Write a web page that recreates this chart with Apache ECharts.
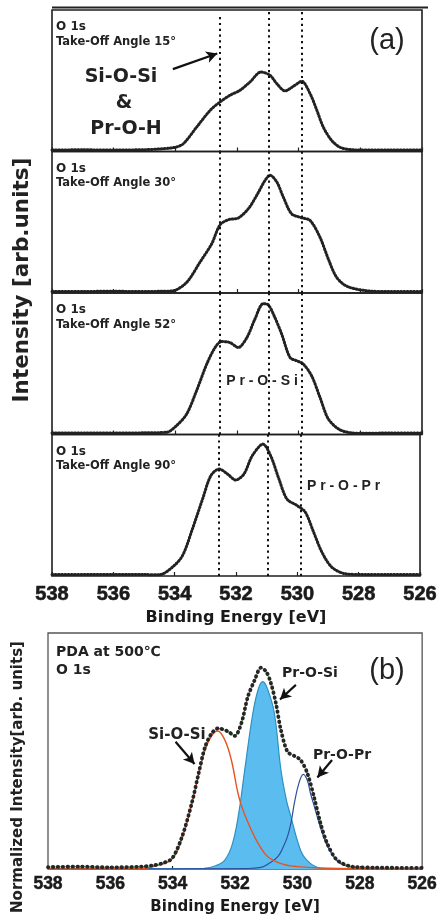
<!DOCTYPE html>
<html>
<head>
<meta charset="utf-8">
<script src="https://cdn.jsdelivr.net/npm/echarts@6.0.0/dist/echarts.min.js"></script>
<style>
  html, body { margin: 0; padding: 0; background: #fff; }
  #c { width: 440px; height: 919px; }
</style>
</head>
<body>
<div id="c"></div>
<script>
// ---- O 1s spectra (binding energy in eV, intensity in % of panel height) ----
// Take-off angle 15°
const e15 = [538,537,536,535,534.5,534.0,533.74,533.31,532.87,532.55,532.23,531.9,531.58,531.22,530.93,530.71,530.44,530.17,529.9,529.63,529.41,529.2,528.93,528.66,528.24,527.5,527,526];
const i15 = [1.0,1.2,1.0,1.3,1.8,3.0,5.5,17.2,29.1,35.0,39.7,43.3,49.1,56.2,53.9,48.0,42.8,46.1,49.6,40.9,29.1,17.2,7.8,3.0,1.2,1.0,1.1,1.0];
// Take-off angle 30°
const e30 = [538,537,536,535,534.5,534.07,533.63,533.2,532.82,532.55,532.28,531.96,531.63,531.36,531.09,530.93,530.71,530.5,530.23,529.9,529.63,529.31,529.04,528.77,528.44,527.8,527,526];
const i30 = [1.0,1.1,1.2,1.0,1.2,1.6,7.6,21.8,34.8,48.2,51.8,53.0,59.6,69.0,79.6,83.2,78.5,67.9,56.0,53.2,51.3,39.5,24.1,11.1,4.8,1.6,1.0,1.0];
// Take-off angle 52°
const e52 = [538,537,536,535,534.28,533.96,533.63,533.31,532.98,532.71,532.5,532.23,531.96,531.68,531.42,531.15,530.98,530.77,530.55,530.28,530.06,529.85,529.58,529.31,529.04,528.66,528.12,527,526];
const i52 = [1.0,1.1,1.0,1.2,1.6,6.3,14.6,31.0,49.8,61.5,65.7,65.0,61.5,68.5,81.5,92.5,91.5,82.6,70.9,54.4,52.1,49.8,41.5,26.3,11.1,3.3,0.9,1.0,1.0];
// Take-off angle 90°
const e90 = [538,537,536,535,534.5,534.07,533.74,533.42,533.09,532.82,532.55,532.28,532.01,531.74,531.47,531.12,530.87,530.6,530.34,530.01,529.74,529.47,529.2,528.88,528.44,527.8,527,526];
const i90 = [1.0,1.0,1.1,1.0,0.9,6.3,14.6,33.3,54.4,70.9,75.6,72.1,67.8,72.1,85.0,93.2,85.0,68.5,54.4,49.8,45.1,31.0,16.9,6.3,1.6,1.0,1.0,1.0];

const angles = ['15', '30', '52', '90'];
// reference energies of the three O 1s components
const peakEnergies = [532.55, 530.96, 529.9];

// ---- PDA at 500 ℃, normalized O 1s with peak fit ----
const eMeas = [538,537,536,535,534.6,534.34,534.02,533.7,533.39,533.17,532.96,532.75,532.54,532.22,532.01,531.8,531.59,531.37,531.17,531.0,530.85,530.69,530.53,530.32,530.1,529.9,529.68,529.47,529.26,529.05,528.73,528.2,527.5,526.5,526];
const iMeas = [0.8,1.0,0.7,1.0,1.6,2.4,4.5,13.7,27.8,40.5,51.8,57.5,59.6,58.2,56.4,61.7,73.0,80.1,85.3,83.6,78.7,70.2,58.9,49.7,47.9,46.2,40.5,30.6,19.4,11.0,3.8,0.9,0.6,0.5,0.5];

// Si-O-Si component
const eSiOSi = [538,535,534.5,534.02,533.7,533.39,533.17,532.96,532.75,532.56,532.33,532.12,531.85,531.48,531.2,530.95,530.5,530,529,526];
const iSiOSi = [0,0.3,1.5,4.2,13,27.5,40,50.5,56.5,58.5,54.7,46.2,29.2,16.5,9.5,5.2,2.2,1.0,0.3,0];
// Pr-O-Si component
const ePrOSi = [538,533,532.6,532.33,532.1,531.9,531.69,531.43,531.25,531.11,530.95,530.74,530.53,530.35,530.21,530.0,529.79,529.37,529,526];
const iPrOSi = [0,0.3,1.5,3.8,10,22.2,42,66,76.5,79.4,76,66,42,29,22.2,12,5.2,0.7,0.2,0];
// Pr-O-Pr component
const ePrOPr = [538,531.6,531.17,530.9,530.63,530.45,530.32,530.2,530.1,529.95,529.81,529.68,529.58,529.47,529.26,529.05,528.73,528.4,528,526];
const iPrOPr = [0,0.2,0.7,2.5,5.2,9.5,13.7,20,27.8,36.5,40.1,37.5,32,27,17.5,10,3.5,1.2,0.3,0];

const xTicks = { min: 526, max: 538, interval: 2 };

const zip = (xs, ys) => xs.map((x, k) => [x, ys[k]]);
const spectraE = [e15, e30, e52, e90];
const spectraI = [i15, i30, i52, i90];

// ---- layout ----
const TOPS = [10, 151.5, 293, 434.5];
const PANEL_H = 141.5;
const INK = '#222';
const LABEL_FONT = '"DejaVu Sans", sans-serif';
const TICK_FONT = '"Liberation Sans", Arial, sans-serif';

const grids = [], xAxes = [], yAxes = [], series = [];

TOPS.forEach((top, k) => {
  grids.push({ left: 52, width: 370, top: top, height: PANEL_H, show: true,
    borderColor: '#1e1e1e', borderWidth: 1.6, backgroundColor: 'transparent' });
  const last = k === TOPS.length - 1;
  xAxes.push({
    gridIndex: k, type: 'value', inverse: true,
    min: xTicks.min, max: xTicks.max, interval: xTicks.interval,
    axisLine: { show: false },
    axisTick: { show: true, inside: true, length: 4, lineStyle: { color: '#222', width: 1.2 } },
    splitLine: { show: false },
    axisLabel: { show: last, margin: 8, color: '#1a1a1a', fontSize: 20, fontWeight: 'bold', fontFamily: TICK_FONT,
      textBorderColor: '#1a1a1a', textBorderWidth: 0.6 },
    name: last ? 'Binding Energy [eV]' : '',
    nameLocation: 'middle', nameGap: 34,
    nameTextStyle: { color: '#1a1a1a', fontSize: 16, fontWeight: 'bold', fontFamily: LABEL_FONT }
  });
  yAxes.push({ gridIndex: k, type: 'value', min: 0, max: 100, show: false });

  const vlines = k === 0
    ? peakEnergies.map((e, j) => [{ coord: [e, j === 0 ? 95 : 98.5] }, { coord: [e, 0] }])
    : peakEnergies.map(e => ({ xAxis: e }));

  series.push({
    type: 'line', xAxisIndex: k, yAxisIndex: k,
    data: zip(spectraE[k], spectraI[k]),
    showSymbol: false, smooth: 0.3,
    lineStyle: { color: '#222', width: 3, type: [1, 2.2], cap: 'round', join: 'round' },
    markLine: {
      silent: true, symbol: 'none', label: { show: false },
      lineStyle: { color: '#111', width: 2, type: [2.2, 3.6] },
      data: vlines
    },
    z: 3
  });
});

// arrow pointing at the Si-O-Si / Pr-O-H position
series.push({
  type: 'line', xAxisIndex: 0, yAxisIndex: 0, data: [],
  markLine: {
    silent: true, label: { show: false },
    symbol: ['none', 'arrow'], symbolSize: [9, 11],
    lineStyle: { color: '#111', width: 2.2, type: 'solid' },
    data: [[{ coord: [534.08, 58.2] }, { coord: [532.64, 69.3] }]]
  }
});

// ---- panel (b) ----
const B = 4;
grids.push({ left: 48, width: 378, top: 633, height: 236, show: true,
  borderColor: '#555', borderWidth: 1.3, backgroundColor: 'transparent' });
xAxes.push({
  gridIndex: B, type: 'value', inverse: true,
  min: xTicks.min, max: xTicks.max, interval: xTicks.interval,
  axisLine: { show: false },
  axisTick: { show: true, inside: true, length: 3, lineStyle: { color: '#222', width: 1.2 } },
  splitLine: { show: false },
  axisLabel: { margin: 6, color: '#1a1a1a', fontSize: 17.5, fontWeight: 'bold', fontFamily: TICK_FONT,
    textBorderColor: '#1a1a1a', textBorderWidth: 0.5 },
  name: 'Binding Energy [eV]', nameLocation: 'middle', nameGap: 31,
  nameTextStyle: { color: '#1a1a1a', fontSize: 15, fontWeight: 'bold', fontFamily: LABEL_FONT }
});
yAxes.push({ gridIndex: B, type: 'value', min: 0, max: 100, show: false });

series.push(
  { type: 'line', xAxisIndex: B, yAxisIndex: B, data: zip(ePrOSi, iPrOSi),
    showSymbol: false, smooth: 0.4,
    lineStyle: { color: '#2d90c4', width: 1.2 },
    areaStyle: { color: '#5bbcef', opacity: 1 }, z: 1 },
  { type: 'line', xAxisIndex: B, yAxisIndex: B, data: zip(ePrOPr, iPrOPr),
    showSymbol: false, smooth: 0.4,
    lineStyle: { color: '#2f4f9e', width: 1.2 }, z: 2 },
  { type: 'line', xAxisIndex: B, yAxisIndex: B, data: zip(eSiOSi, iSiOSi),
    showSymbol: false, smooth: 0.4,
    lineStyle: { color: '#e8541f', width: 1.4 }, z: 2 },
  { type: 'line', xAxisIndex: B, yAxisIndex: B, data: zip(eMeas, iMeas),
    showSymbol: false, smooth: 0.3,
    lineStyle: { color: '#3bb54a', width: 1, type: [3, 2] }, z: 3 },
  { type: 'line', xAxisIndex: B, yAxisIndex: B, data: zip(eMeas, iMeas),
    showSymbol: false, smooth: 0.3,
    lineStyle: { color: '#262626', width: 3.8, type: [0.5, 4.4], cap: 'round' }, z: 4,
    markLine: {
      silent: true, label: { show: false },
      symbol: ['none', 'arrow'], symbolSize: [9, 11],
      lineStyle: { color: '#111', width: 2.2, type: 'solid' },
      data: [
        [{ coord: [530.05, 78] }, { coord: [530.56, 71.8] }],
        [{ coord: [533.91, 53.9] }, { coord: [533.3, 44.5] }],
        [{ coord: [528.89, 46.2] }, { coord: [529.36, 38.8] }]
      ]
    } }
);

// ---- text annotations ----
function label(x, y, text, size, extra) {
  return {
    type: 'text', x: x, y: y, silent: true,
    style: Object.assign({
      text: text, font: 'bold ' + size + 'px ' + LABEL_FONT, fill: INK,
      textAlign: 'left', textVerticalAlign: 'middle', align: 'left', verticalAlign: 'middle'
    }, extra || {})
  };
}
const centered = { textAlign: 'center', align: 'center' };

const graphics = [
  { type: 'line', silent: true, shape: { x1: 52, y1: 7.5, x2: 428, y2: 7.5 },
    style: { stroke: '#222', lineWidth: 2 } }
];
TOPS.forEach((top, k) => {
  graphics.push(label(56, top + 17, 'O 1s', 12));
  graphics.push(label(56, top + 32, 'Take-Off Angle ' + angles[k] + '°', 11.5));
});
graphics.push(
  label(387, 41, '(a)', 29, Object.assign({ font: '29px "Liberation Sans", Arial, sans-serif' }, centered)),
  label(121, 77, 'Si-O-Si', 19, centered),
  label(124, 103, '&', 19, centered),
  label(126, 129, 'Pr-O-H', 19, centered),
  label(262, 381, 'P r - O - S i', 14, Object.assign({ font: 'bold 14px ' + TICK_FONT }, centered)),
  label(307, 486, 'P r - O - P r', 14, { font: 'bold 14px ' + TICK_FONT }),
  label(56, 652, 'PDA at 500℃', 14),
  label(56, 670, 'O 1s', 14),
  label(387, 671, '(b)', 29, Object.assign({ font: '29px "Liberation Sans", Arial, sans-serif' }, centered)),
  label(310, 673, 'Pr-O-Si', 14, centered),
  label(177, 735, 'Si-O-Si', 15, centered),
  label(342, 755, 'Pr-O-Pr', 14, centered),
  { type: 'text', x: 22, y: 280, rotation: Math.PI / 2, silent: true,
    style: { text: 'Intensity [arb.units]', font: 'bold 21.5px ' + LABEL_FONT, fill: INK,
      textAlign: 'center', align: 'center', textVerticalAlign: 'middle', verticalAlign: 'middle' } },
  { type: 'text', x: 18, y: 777, rotation: Math.PI / 2, silent: true,
    style: { text: 'Normalized Intensity[arb. units]', font: 'bold 15px ' + LABEL_FONT, fill: INK,
      textAlign: 'center', align: 'center', textVerticalAlign: 'middle', verticalAlign: 'middle' } }
);

const chart = echarts.init(document.getElementById('c'));
chart.setOption({
  animation: false,
  backgroundColor: '#fff',
  grid: grids,
  xAxis: xAxes,
  yAxis: yAxes,
  series: series,
  graphic: graphics
});
</script>
</body>
</html>
